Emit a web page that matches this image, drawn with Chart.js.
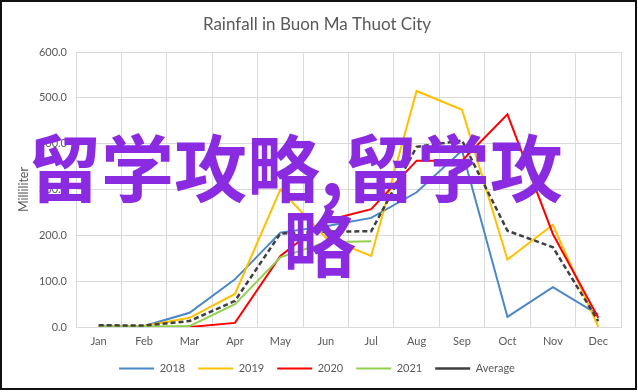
<!DOCTYPE html>
<html>
<head>
<meta charset="utf-8">
<script src="https://cdn.jsdelivr.net/npm/chart.js@4/dist/chart.umd.min.js"></script>
<style>
  body { margin: 0; background: #fff; }
  #wrap { position: relative; width: 638px; height: 392px; }
  #frame { position: absolute; left: 0; top: 0; width: 637px; height: 390px; border: 2px solid #111; box-sizing: border-box; pointer-events: none; }
  .mark { position: absolute; font-family: "Noto Sans CJK SC"; font-weight: bold; font-size: 73px; line-height: 1; color: #8a2be2; white-space: nowrap; }
</style>
</head>
<body>
<div id="wrap">
  <canvas id="myChart" width="638" height="392"></canvas>
  <div class="mark" style="left:28px; top:128px;">留学攻略,留学攻</div>
  <div class="mark" style="left:283px; top:203px;">略</div>
  <div id="frame"></div>
</div>
<script>
// data
const months = ['Jan', 'Feb', 'Mar', 'Apr', 'May', 'Jun', 'Jul', 'Aug', 'Sep', 'Oct', 'Nov', 'Dec'];
const rain2018 = [3, 2, 31, 104, 206, 220, 238, 294, 385, 22, 87, 27];
const rain2019 = [1, 2, 20, 72, 300, 195, 155, 515, 474, 147, 223, 0];
const rain2020 = [0, 0, 0, 9, 155, 232, 257, 363, 363, 464, 203, 20];
const rain2021 = [0, 1, 2, 50, 152, 185, 187, null, null, null, null, null];
const rainAvg = [4, 3, 13, 57, 204, 208, 209, 393, 407, 210, 174, 13];
const yTicks = [0, 100, 200, 300, 400, 500, 600];

const textColor = '#595959';
const gridColor = '#d9d9d9';

function line(label, data, color, order) {
    return {
        label: label,
        data: data,
        borderColor: color,
        backgroundColor: color,
        borderWidth: 2,
        pointRadius: 0,
        tension: 0,
        order: order
    };
}

const avgSet = line('Average', rainAvg, '#404040', 0);
avgSet.borderDash = [5, 3];
avgSet.borderWidth = 2.5;

const config = {
    type: 'line',
    data: {
        labels: months,
        datasets: [
            line('2018', rain2018, '#4a86c8', 4),
            line('2019', rain2019, '#ffc000', 3),
            line('2020', rain2020, '#ff0000', 2),
            line('2021', rain2021, '#92d050', 1),
            avgSet
        ]
    },
    options: {
        responsive: false,
        animation: false,
        devicePixelRatio: 1,
        layout: { padding: { left: 13, top: 3, right: 17, bottom: 8 } },
        plugins: {
            title: {
                display: true,
                text: 'Rainfall in Buon Ma Thuot City',
                color: textColor,
                font: { family: 'Lato', size: 17, weight: 'normal' },
                padding: { top: 11, bottom: 17.6 }
            },
            legend: {
                position: 'bottom',
                labels: {
                    usePointStyle: true,
                    pointStyle: 'line',
                    pointStyleWidth: 35,
                    color: textColor,
                    font: { family: 'Lato', size: 11 },
                    padding: 13,
                    sort: (a, b) => a.datasetIndex - b.datasetIndex
                }
            },
            tooltip: { enabled: false }
        },
        scales: {
            x: {
                offset: true,
                grid: { color: gridColor, offset: true, drawTicks: false },
                border: { color: gridColor },
                ticks: { color: textColor, font: { family: 'Lato', size: 11 }, padding: 8 },
                afterFit: (s) => { s.height = 23; }
            },
            y: {
                min: 0,
                max: 600,
                afterBuildTicks: (s) => { s.ticks = yTicks.map(v => ({ value: v })); },
                grid: { color: gridColor, drawTicks: false },
                border: { display: false },
                ticks: {
                    color: textColor,
                    font: { family: 'Lato', size: 11 },
                    padding: 9,
                    callback: (v) => Number(v).toFixed(1)
                },
                title: {
                    display: true,
                    text: 'Milliliter',
                    color: textColor,
                    font: { family: 'Lato', size: 12.5 },
                    padding: { top: 3, bottom: 4 }
                },
                afterFit: (s) => { s.width = 63; }
            }
        }
    }
};

new Chart(document.getElementById('myChart'), config);
</script>
</body>
</html>
